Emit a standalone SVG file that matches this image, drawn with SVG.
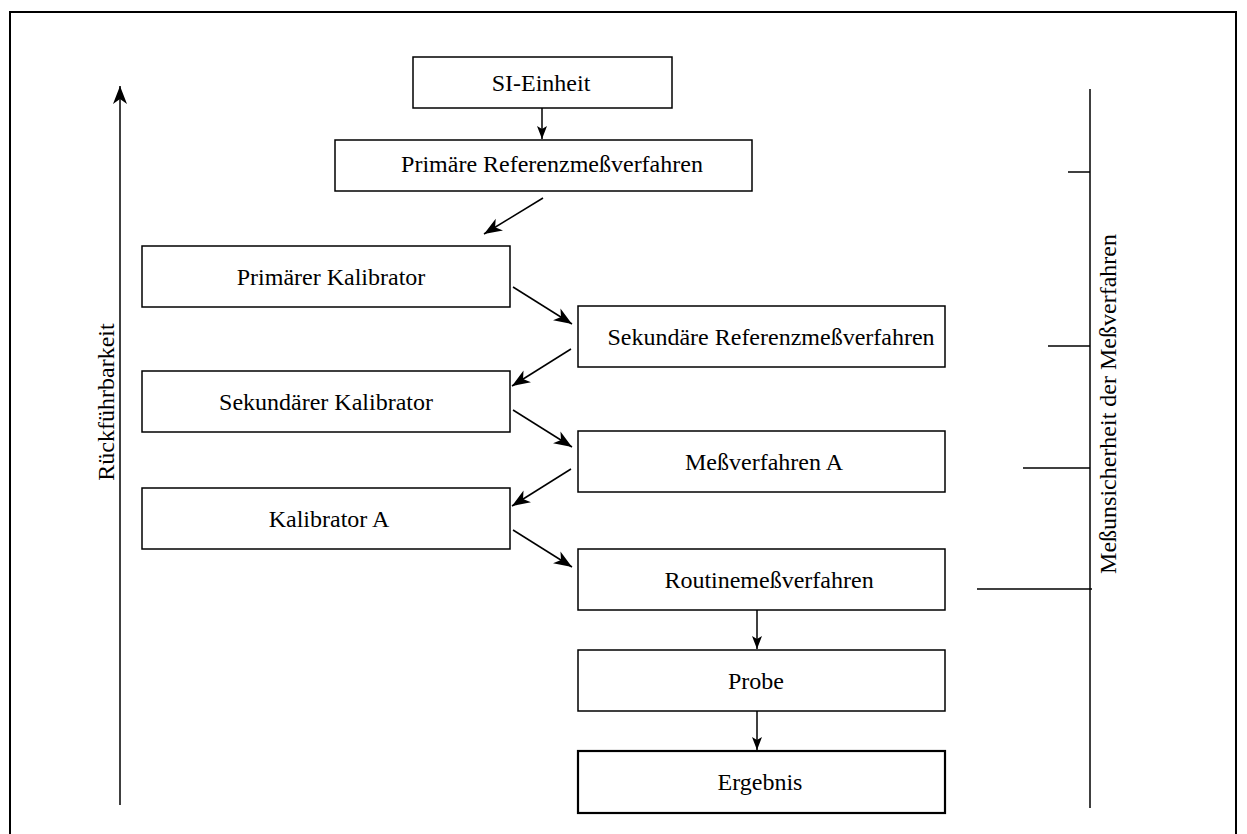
<svg xmlns="http://www.w3.org/2000/svg" width="1247" height="834" viewBox="0 0 1247 834">
<defs>
<style>
.box{fill:#fff;stroke:#000;stroke-width:1.5}
.bold{stroke-width:2.2}
.t{font-family:"Liberation Serif","Times New Roman",serif;font-size:24px;fill:#000}
.c{text-anchor:middle}
.ln{stroke:#000;stroke-width:1.5;fill:none}
.ar{stroke:#000;stroke-width:1.5;fill:none;marker-end:url(#ah)}
</style>
<marker id="ah" markerUnits="userSpaceOnUse" markerWidth="22" markerHeight="16" viewBox="-19 -8 20 16" refX="0" refY="0" orient="auto">
<path d="M0,0 L-18,-7 L-13,0 L-18,7 Z" fill="#000"/>
</marker>
<marker id="ahs" markerUnits="userSpaceOnUse" markerWidth="16" markerHeight="12" viewBox="-14 -6 15 12" refX="0" refY="0" orient="auto">
<path d="M0,0 L-13,-5 L-10,0 L-13,5 Z" fill="#000"/>
</marker>
</defs>
<rect x="0" y="0" width="1247" height="834" fill="#fff"/>
<rect id="frame" x="10" y="12" width="1226" height="840" fill="none" stroke="#000" stroke-width="2"/>

<g id="axis-left">
<line class="ln" x1="120" y1="805" x2="120" y2="86" marker-end="url(#ah)"/>
<text class="t c" transform="translate(114,402) rotate(-90)">Rückführbarkeit</text>
</g>

<g id="axis-right">
<line class="ln" x1="1090" y1="89" x2="1090" y2="808"/>
<line class="ln" x1="1068" y1="172" x2="1090" y2="172"/>
<line class="ln" x1="1048" y1="346" x2="1090" y2="346"/>
<line class="ln" x1="1023" y1="468" x2="1090" y2="468"/>
<line class="ln" x1="977" y1="589" x2="1092" y2="589"/>
<text class="t c" transform="translate(1116,404) rotate(-90)">Meßunsicherheit der Meßverfahren</text>
</g>

<g id="n-si"><rect class="box" x="413" y="57" width="259" height="51"/><text class="t c" x="541" y="91">SI-Einheit</text></g>
<g id="n-primref"><rect class="box" x="335" y="140" width="417" height="51"/><text class="t c" x="552" y="172">Primäre Referenzmeßverfahren</text></g>
<g id="n-primkal"><rect class="box" x="142" y="246" width="368" height="61"/><text class="t c" x="331" y="285">Primärer Kalibrator</text></g>
<g id="n-sekref"><rect class="box" x="578" y="306" width="367" height="61"/><text class="t c" x="771" y="345">Sekundäre Referenzmeßverfahren</text></g>
<g id="n-sekkal"><rect class="box" x="142" y="371" width="368" height="61"/><text class="t c" x="326" y="410">Sekundärer Kalibrator</text></g>
<g id="n-mva"><rect class="box" x="578" y="431" width="367" height="61"/><text class="t c" x="764" y="470">Meßverfahren A</text></g>
<g id="n-kala"><rect class="box" x="142" y="488" width="368" height="61"/><text class="t c" x="329" y="527">Kalibrator A</text></g>
<g id="n-routine"><rect class="box" x="578" y="549" width="367" height="61"/><text class="t c" x="769" y="588">Routinemeßverfahren</text></g>
<g id="n-probe"><rect class="box" x="578" y="650" width="367" height="61"/><text class="t c" x="756" y="689">Probe</text></g>
<g id="n-ergebnis"><rect class="box bold" x="578" y="751" width="367" height="62"/><text class="t c" x="760" y="790">Ergebnis</text></g>

<g id="connectors">
<line class="ln" x1="542" y1="108" x2="542" y2="139" marker-end="url(#ahs)"/>
<line class="ar" x1="543" y1="198" x2="484" y2="234"/>
<line class="ar" x1="513" y1="287" x2="572" y2="324"/>
<line class="ar" x1="571" y1="349" x2="512" y2="386"/>
<line class="ar" x1="513" y1="410" x2="572" y2="447"/>
<line class="ar" x1="571" y1="469" x2="512" y2="506"/>
<line class="ar" x1="513" y1="530" x2="572" y2="567"/>
<line class="ln" x1="757" y1="610" x2="757" y2="649" marker-end="url(#ahs)"/>
<line class="ln" x1="757" y1="711" x2="757" y2="750" marker-end="url(#ahs)"/>
</g>
</svg>
